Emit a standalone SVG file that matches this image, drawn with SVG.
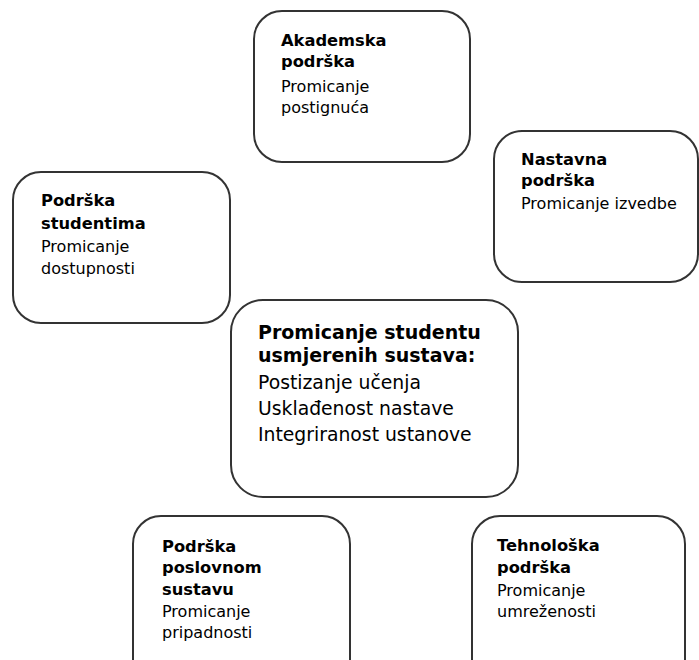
<svg xmlns="http://www.w3.org/2000/svg" width="699" height="660" viewBox="0 0 699 660">
  <style>
    .box { fill: #ffffff; stroke: #333333; stroke-width: 2; }
    .b { font-family: "DejaVu Sans", Verdana, sans-serif; font-weight: bold; font-size: 16.3px; fill: #000; }
    .n { font-family: "DejaVu Sans", Verdana, sans-serif; font-size: 16px; fill: #000; }
    .cb { font-family: "DejaVu Sans", Verdana, sans-serif; font-weight: bold; font-size: 19px; fill: #000; }
    .cn { font-family: "DejaVu Sans", Verdana, sans-serif; font-size: 18.8px; fill: #000; }
  </style>
  <rect width="699" height="660" fill="#ffffff"/>
  <g id="connectors"></g>
  <g id="akademska">
    <rect class="box" x="254" y="11" width="216" height="151" rx="28" ry="28"/>
    <text class="b" x="281" y="46">Akademska</text>
    <text class="b" x="281" y="67">podrška</text>
    <text class="n" x="281" y="92">Promicanje</text>
    <text class="n" x="281" y="113">postignuća</text>
  </g>
  <g id="nastavna">
    <rect class="box" x="494" y="131" width="204" height="151" rx="28" ry="28"/>
    <text class="b" x="521" y="165">Nastavna</text>
    <text class="b" x="521" y="186">podrška</text>
    <text class="n" x="521" y="209">Promicanje izvedbe</text>
  </g>
  <g id="studentima">
    <rect class="box" x="13" y="172" width="217" height="151" rx="28" ry="28"/>
    <text class="b" x="41" y="206">Podrška</text>
    <text class="b" x="41" y="229">studentima</text>
    <text class="n" x="41" y="252">Promicanje</text>
    <text class="n" x="41" y="274">dostupnosti</text>
  </g>
  <g id="centar">
    <rect class="box" x="231" y="300" width="287" height="197" rx="32" ry="32"/>
    <text class="cb" x="258" y="339">Promicanje studentu</text>
    <text class="cb" x="258" y="362">usmjerenih sustava:</text>
    <text class="cn" x="258" y="389">Postizanje učenja</text>
    <text class="cn" x="258" y="415">Usklađenost nastave</text>
    <text class="cn" x="258" y="441">Integriranost ustanove</text>
  </g>
  <g id="poslovni">
    <rect class="box" x="133" y="516" width="217" height="180" rx="28" ry="28"/>
    <text class="b" x="162" y="552">Podrška</text>
    <text class="b" x="162" y="573">poslovnom</text>
    <text class="b" x="162" y="595">sustavu</text>
    <text class="n" x="162" y="617">Promicanje</text>
    <text class="n" x="162" y="638">pripadnosti</text>
  </g>
  <g id="tehnoloska">
    <rect class="box" x="472" y="516" width="213" height="180" rx="28" ry="28"/>
    <text class="b" x="497" y="551">Tehnološka</text>
    <text class="b" x="497" y="573">podrška</text>
    <text class="n" x="497" y="596">Promicanje</text>
    <text class="n" x="497" y="617">umreženosti</text>
  </g>
</svg>
